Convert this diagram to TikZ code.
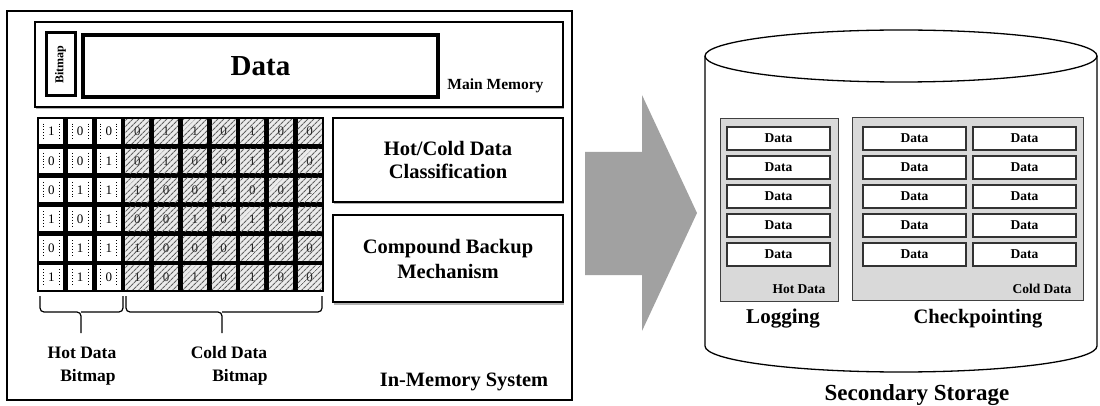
\documentclass[tikz,border=0pt]{standalone}
\usepackage{fontspec}
\setmainfont{Liberation Serif}
\usetikzlibrary{patterns.meta,shadows}

\newcommand\txtsize[2]{\fontsize{#1}{#2}\selectfont\bfseries}

\tikzset{
  box/.style={draw, line width=1.4pt, fill=white, inner sep=0pt},
  shadowbox/.style={box, drop shadow={shadow xshift=0.6pt, shadow yshift=-2.5pt, opacity=0.6}},
  hotcell/.style={fill=white, inner sep=0pt, minimum width=24, minimum height=24.5,
    font=\fontsize{13}{14}\selectfont},
  coldcell/.style={inner sep=0pt, minimum width=24, minimum height=24.5,
    preaction={fill=black!8}, pattern={Lines[angle=45,distance=4pt,line width=1.2pt]},
    pattern color=black!62, text=black!85, font=\fontsize{13}{14}\selectfont},
  panel/.style={draw=black!75, line width=1pt, fill=black!15, inner sep=0pt},
  dbox/.style={draw=black!80, line width=1.2pt, fill=white, inner sep=0pt,
    minimum width=103, minimum height=23, font=\txtsize{13.5}{15}},
  brace/.style={line width=1.2pt, rounded corners=4pt}
}

\begin{document}
\begin{tikzpicture}[x=1pt,y=-1pt]
  \useasboundingbox (0,0) rectangle (1100,406);

  % in-memory side
  \node[draw, line width=1.2pt, inner sep=0pt, minimum width=565, minimum height=389] (sys) at (289.5,205.5) {};
  \node[shadowbox, line width=1.6pt, minimum width=528, minimum height=85] (mem) at (299,64.5) {};
  \node[box, line width=3pt, minimum width=29, minimum height=63] (bmp) at (60.5,64.5) {};
  \node[rotate=90, font=\txtsize{12}{14}] (bmp-t) at (bmp) {Bitmap};
  \node[box, line width=3.2pt, minimum width=355, minimum height=62, font=\txtsize{29}{32}] (data) at (260.5,66) {Data};
  \node[anchor=east, font=\txtsize{15.5}{18}] (mm) at (547,86) {Main Memory};

  % bitmap grid
  \fill (37,117) rectangle (324,292);
  \foreach \row [count=\j from 0] in {{1,0,0,0,1,1,0,1,0,0},{0,0,1,0,1,0,0,1,0,0},{0,1,1,1,0,0,1,0,0,1},
      {1,0,1,0,0,1,0,1,0,1},{0,1,1,1,0,0,0,1,0,0},{1,1,0,1,0,1,0,1,0,0}} {
    \foreach \b [count=\i from 0] in \row {
      \pgfmathsetmacro\cx{37+28.7*(\i+0.5)}
      \pgfmathsetmacro\cy{117+29.17*(\j+0.5)}
      \ifnum\i<3
        \node[hotcell] (c-\j-\i) at (\cx,\cy) {\b};
        \draw[dotted, line width=0.9pt] (\cx-8,\cy-8) -- (\cx-8,\cy+8) (\cx+8,\cy-8) -- (\cx+8,\cy+8);
      \else
        \node[coldcell] (c-\j-\i) at (\cx,\cy) {\b};
      \fi
    }
  }

  \draw[brace] (40,296) |- (81,312) -- (81,333);
  \draw[brace] (123,296) |- (81,312);
  \draw[brace] (126,296) |- (222,312) -- (222,333);
  \draw[brace] (322,296) |- (222,312);
  \node[font=\txtsize{17.5}{20}] (hot-a) at (82,353) {Hot Data};
  \node[font=\txtsize{17.5}{20}] (hot-b) at (88,377) {Bitmap};
  \node[font=\txtsize{17.5}{20}] (cold-a) at (229,353) {Cold Data};
  \node[font=\txtsize{17.5}{20}] (cold-b) at (240,377) {Bitmap};

  \node[shadowbox, minimum width=230, minimum height=84, align=center, font=\txtsize{20.5}{23}] (cls) at (448,160) {Hot/Cold Data\\Classification};
  \node[shadowbox, minimum width=230, minimum height=87, align=center, font=\txtsize{20.5}{25}] (cbm) at (448,258.5) {Compound Backup\\Mechanism};
  \node[font=\txtsize{20.4}{23}] (ims) at (464,382) {In-Memory System};

  % big arrow
  \fill[black!37] (585,152) -- (642,152) -- (642,95) -- (697,213) -- (642,331) -- (642,275) -- (585,275) -- cycle;

  % secondary storage
  \draw[line width=1.3pt] (705,56) -- (705,346) arc[start angle=180, end angle=0, x radius=196, y radius=26] -- (1097,56);
  \draw[line width=1.3pt] (901,56) ellipse[x radius=196, y radius=26];

  \node[panel, minimum width=118, minimum height=182] (hotp) at (779,210) {};
  \node[panel, minimum width=231, minimum height=182] (coldp) at (967.5,209) {};
  \foreach \k in {0,...,4} {
    \node[dbox] (h-\k) at (778.5,138.5+29*\k) {Data};
    \node[dbox] (ca-\k) at (914.5,138.5+29*\k) {Data};
    \node[dbox] (cb-\k) at (1024.5,138.5+29*\k) {Data};
  }
  \node[anchor=east, font=\txtsize{13.5}{15}] (hotd) at (829,289) {Hot Data};
  \node[anchor=east, font=\txtsize{13.5}{15}] (coldd) at (1075,289) {Cold Data};
  \node[font=\txtsize{21}{24}] (log) at (783,319) {Logging};
  \node[font=\txtsize{20.5}{24}] (ckp) at (978,319) {Checkpointing};
  \node[font=\txtsize{23}{26}] (sec) at (917,395) {Secondary Storage};
\end{tikzpicture}
\end{document}
